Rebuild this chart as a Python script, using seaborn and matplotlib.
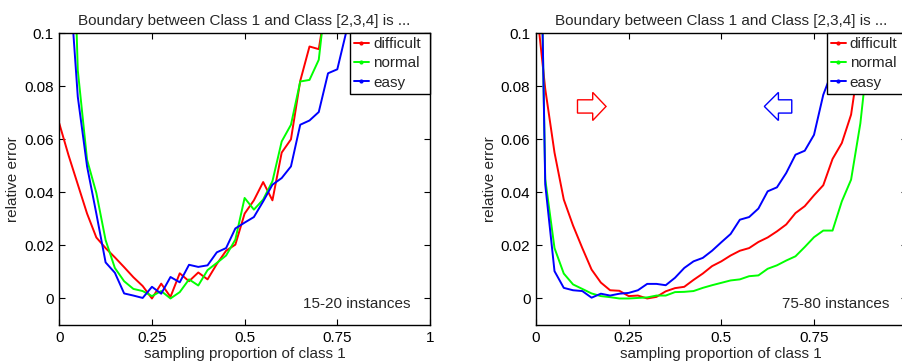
import numpy as np
import pandas as pd
import matplotlib
matplotlib.use("Agg")
import matplotlib.pyplot as plt
from matplotlib.lines import Line2D
from matplotlib.patches import FancyArrow
import seaborn as sns

# sampling proportions of class 1
x_small = [0.0, 0.025, 0.05, 0.075, 0.1, 0.125, 0.15, 0.175, 0.2, 0.225, 0.25,
           0.275, 0.3, 0.325, 0.35, 0.375, 0.4, 0.425, 0.45, 0.475, 0.5, 0.525,
           0.55, 0.575, 0.6, 0.625, 0.65, 0.675, 0.7, 0.725, 0.75, 0.775, 0.8]
x_large = x_small + [0.825, 0.85, 0.875, 0.9, 0.925, 0.95]

# 15-20 instances
difficult_small = [0.066, 0.054, 0.043, 0.032, 0.023, 0.019, 0.0155, 0.0118, 0.008,
                   0.0047, 0.0, 0.0056, 0.0006, 0.0095, 0.0065, 0.0098, 0.0072, 0.013,
                   0.018, 0.0203, 0.032, 0.037, 0.0439, 0.037, 0.055, 0.06, 0.082,
                   0.095, 0.094, 0.116, 0.14, 0.17, 0.2]
normal_small = [0.3, 0.2, 0.086, 0.0523, 0.0398, 0.022, 0.0115, 0.0065, 0.0036,
                0.0028, 0.0009, 0.0028, 0.0, 0.0024, 0.0072, 0.0049, 0.0107, 0.0134,
                0.0162, 0.0222, 0.0379, 0.0335, 0.0373, 0.0442, 0.0592, 0.0655,
                0.0818, 0.0824, 0.09, 0.121, 0.15, 0.18, 0.21]
easy_small = [0.2, 0.126, 0.076, 0.0498, 0.032, 0.0136, 0.0097, 0.0019, 0.0011,
              0.0002, 0.0044, 0.0018, 0.0081, 0.0061, 0.0127, 0.0119, 0.0125, 0.0174,
              0.019, 0.0264, 0.0286, 0.0307, 0.0366, 0.0429, 0.0454, 0.0498, 0.0655,
              0.0671, 0.0703, 0.0849, 0.0864, 0.101, 0.125]

# 75-80 instances
difficult_large = [0.112, 0.079, 0.055, 0.0373, 0.0275, 0.019, 0.0109, 0.006, 0.0031,
                   0.0029, 0.0009, 0.0011, 0.0, 0.0006, 0.0027, 0.0039, 0.0044, 0.007,
                   0.0094, 0.0122, 0.014, 0.0162, 0.018, 0.019, 0.0213, 0.023, 0.0253,
                   0.0279, 0.0322, 0.0348, 0.0389, 0.0427, 0.0526, 0.0586, 0.0693,
                   0.093, 0.125, 0.16, 0.2]
normal_large = [0.24, 0.045, 0.019, 0.0094, 0.0053, 0.0036, 0.0019, 0.0009, 0.0005,
                0.0, 0.0, 0.0002, 0.0004, 0.0011, 0.0011, 0.0024, 0.0025, 0.0028,
                0.004, 0.005, 0.0059, 0.0068, 0.0072, 0.0084, 0.0087, 0.0112, 0.0125,
                0.0143, 0.0159, 0.0194, 0.0231, 0.0256, 0.0256, 0.0366, 0.0448, 0.066,
                0.098, 0.14, 0.18]
easy_large = [0.246, 0.043, 0.0103, 0.004, 0.0031, 0.0028, 0.0003, 0.0018, 0.0011,
              0.0018, 0.0021, 0.0031, 0.0055, 0.0055, 0.005, 0.0078, 0.0115, 0.014,
              0.0153, 0.018, 0.0212, 0.0243, 0.0297, 0.0307, 0.0339, 0.0404, 0.0419,
              0.0473, 0.0542, 0.0557, 0.0617, 0.0768, 0.086, 0.095, 0.104, 0.12, 0.14,
              0.16, 0.18]

levels = ["difficult", "normal", "easy"]
colors = {"difficult": "#ff0000", "normal": "#00ff00", "easy": "#0000ff"}

title = "Boundary between Class 1 and Class [2,3,4] is ..."
xticks = [0, 0.25, 0.5, 0.75, 1]
xticklabels = ["0", "0.25", "0.5", "0.75", "1"]
yticks = [0, 0.02, 0.04, 0.06, 0.08, 0.1]
yticklabels = ["0", "0.02", "0.04", "0.06", "0.08", "0.1"]


def long_frame(x, series):
    parts = []
    for name, vals in zip(levels, series):
        parts.append(pd.DataFrame({"p": x, "err": vals, "boundary": name}))
    return pd.concat(parts, ignore_index=True)


sns.set_style("ticks")
plt.rcParams["font.family"] = ["Liberation Sans", "DejaVu Sans"]
plt.rcParams["font.size"] = 11

fig = plt.figure(figsize=(9.02, 3.62), dpi=100)
ax_l = fig.add_axes([0.0657, 0.1022, 0.411, 0.806])
# the right panel runs past the figure's right edge
ax_r = fig.add_axes([0.5942, 0.1022, 0.411, 0.806])

panels = [
    (ax_l, long_frame(x_small, [difficult_small, normal_small, easy_small]),
     "15-20 instances", 0.948, xticklabels),
    (ax_r, long_frame(x_large, [difficult_large, normal_large, easy_large]),
     "75-80 instances", 0.953, xticklabels[:-1] + [""]),
]

leg_w = 0.2158  # legend box width in axes fraction

for ax, df, note, note_x, xlabels in panels:
    sns.lineplot(data=df, x="p", y="err", hue="boundary", hue_order=levels,
                 palette=colors, linewidth=1.4, legend=False, ax=ax,
                 estimator=None, sort=False)
    ax.set_xlim(0, 1)
    ax.set_ylim(-0.01, 0.1)
    ax.set_xticks(xticks)
    ax.set_xticklabels(xlabels)
    ax.set_yticks(yticks)
    ax.set_yticklabels(yticklabels)
    ax.tick_params(direction="in", top=True, right=True, length=4, width=0.8,
                   labelsize=11, pad=4, colors="black")
    for s in ax.spines.values():
        s.set_visible(True)
        s.set_color("black")
        s.set_linewidth(1.0)
    ax.set_xlabel("sampling proportion of class 1", fontsize=11, labelpad=2)
    ax.set_ylabel("relative error", fontsize=11, labelpad=3)
    ax.set_title(title, fontsize=11, pad=6)
    ax.text(note_x, -0.002, note, ha="right", va="center", fontsize=11)
    handles = [Line2D([], [], color=colors[n], lw=1.4, marker=".", markersize=4)
               for n in levels]
    leg = ax.legend(handles, levels, loc="upper right",
                    bbox_to_anchor=(1 - leg_w, 0, leg_w, 1), mode="expand",
                    borderaxespad=0, fancybox=False, framealpha=1,
                    edgecolor="black", handlelength=1.0, handletextpad=0.25,
                    labelspacing=0.35, borderpad=0.25, fontsize=11)
    leg.get_frame().set_linewidth(1.0)

# direction arrows in the larger-sample panel
ax_r.add_patch(FancyArrow(0.112, 0.0724, 0.077, 0, width=0.005, head_width=0.0106,
                          head_length=0.036, length_includes_head=True, fill=False,
                          edgecolor="#ff0000", linewidth=1.0))
ax_r.add_patch(FancyArrow(0.69, 0.0724, -0.074, 0, width=0.005, head_width=0.0106,
                          head_length=0.038, length_includes_head=True, fill=False,
                          edgecolor="#0000ff", linewidth=1.0))

fig.savefig("out.png", dpi=100)
